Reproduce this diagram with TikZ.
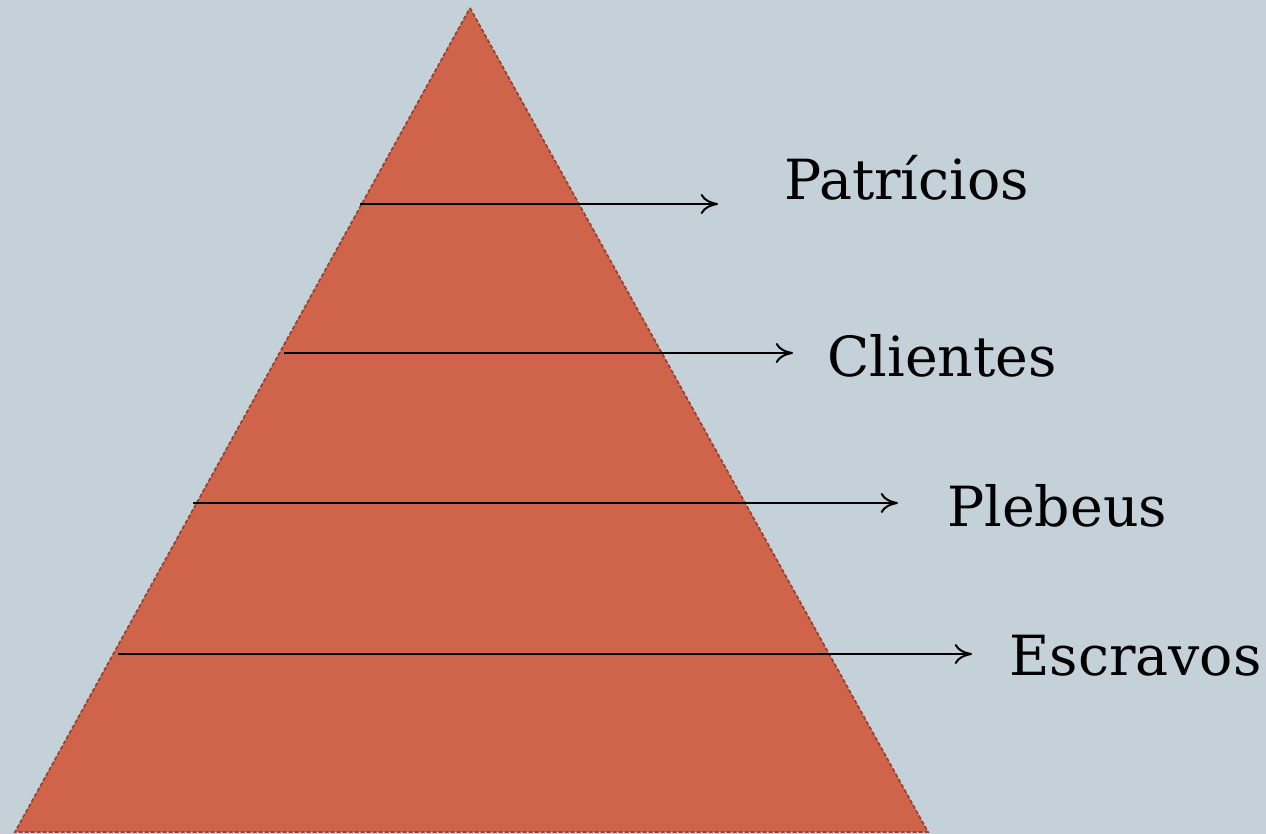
\documentclass[tikz,border=0pt]{standalone}
\usepackage{fontspec}
\setmainfont{DejaVu Serif}
\usetikzlibrary{arrows.meta}
\definecolor{bgc}{HTML}{C5D1D8}
\definecolor{pyr}{HTML}{D0644A}
\definecolor{pyrline}{HTML}{9A4030}
\tikzset{
  lvl/.style={anchor=west, inner sep=0pt, font=\fontsize{41.5}{48}\selectfont, text=black},
  arr/.style={draw=black, line width=1.5pt, -{To[length=13pt,width=15pt]}}
}
\begin{document}
\begin{tikzpicture}[x=0.75pt,y=-0.75pt]
\fill[bgc] (0,0) rectangle (1266,834);
\useasboundingbox (0,0) rectangle (1266,834);
\coordinate (top) at (470,8);
\coordinate (bl) at (15,832);
\coordinate (br) at (928,832);
\fill[pyr] (top) -- (br) -- (bl) -- cycle;
\draw[pyrline, line width=1.3pt, dash pattern=on 3pt off 1.5pt] (top) -- (br) -- (bl) -- cycle;
\coordinate (s1) at (360,204); \coordinate (e1) at (718,204);
\coordinate (s2) at (284,353); \coordinate (e2) at (793,353);
\coordinate (s3) at (193,503); \coordinate (e3) at (898,503);
\coordinate (s4) at (118,654); \coordinate (e4) at (972,654);
\node[lvl] (t1) at (784,178) {Patrícios};
\node[lvl] (t2) at (827,356) {Clientes};
\node[lvl] (t3) at (947,506) {Plebeus};
\node[lvl] (t4) at (1009,656) {Escravos};
\draw[arr] (s1) -- (e1);
\draw[arr] (s2) -- (e2);
\draw[arr] (s3) -- (e3);
\draw[arr] (s4) -- (e4);
\end{tikzpicture}
\end{document}
